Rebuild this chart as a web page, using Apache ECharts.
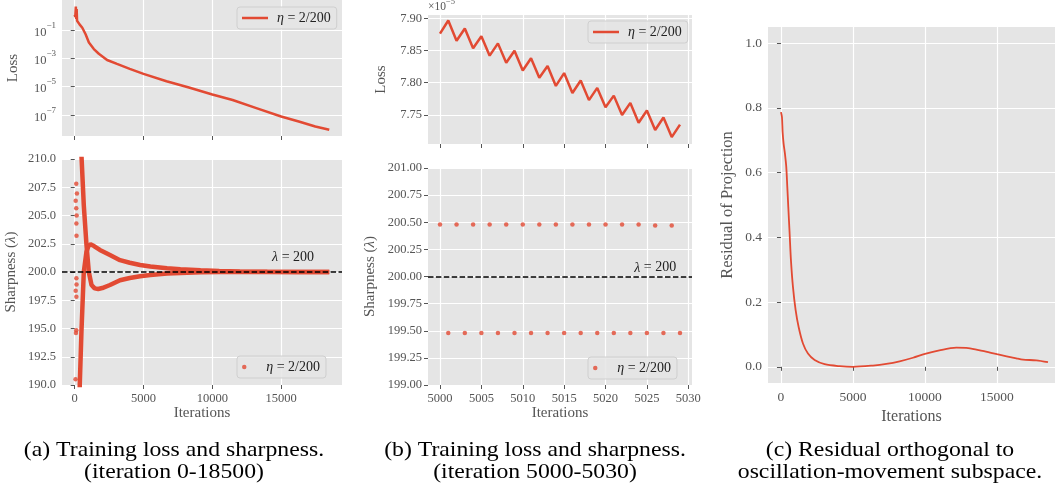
<!DOCTYPE html>
<html>
<head>
<meta charset="utf-8">
<script src="https://cdn.jsdelivr.net/npm/echarts@6/dist/echarts.min.js"></script>
<style>html,body{margin:0;padding:0;background:#fff}#c{width:1055px;height:490px}</style>
</head>
<body>
<div id="c"></div>
<script>
// ---------- data ----------
// (a) top: training loss, iterations 0-18500
const aLossIter = [0, 40, 80, 110, 140, 170, 240, 350, 550, 790, 1030, 1390, 1750, 2110, 2350, 3070, 4000, 5000, 6670, 8300, 10000, 11477, 13200, 15000, 16282, 17485, 18500];
const aLossVal  = [1.2, 0.85, 4.6, 0.6, 3.0, 0.45, 0.40, 0.25, 0.145, 0.05, 0.0129, 0.00447, 0.0021, 0.00115, 0.00076, 0.0004, 0.00018, 7.88e-5, 2.4e-5, 8.5e-6, 2.75e-6, 1.12e-6, 3.0e-7, 7.6e-8, 3.4e-8, 1.5e-8, 8.9e-9];
// (a) bottom: sharpness, early isolated points
const aDotIter = [110, 160, 70, 110, 140, 120, 130, 120, 130, 70, 120, 110, 90, 60];
const aDotVal  = [207.8, 206.95, 206.3, 205.65, 205.0, 204.3, 203.2, 199.45, 198.9, 198.35, 197.8, 194.85, 194.6, 190.5];
// (a) bottom: dense alternating branch rising from below
const aUpIter = [340, 366, 488, 659, 854, 1000, 1146, 1400, 1829, 2561, 3292, 4000, 4755, 5500, 6708, 7683, 9144, 10500, 12000, 14000, 16000, 18500];
const aUpVal  = [188.5, 190.0, 194.7, 200.0, 201.8, 202.3, 202.45, 202.3, 201.95, 201.5, 201.05, 200.82, 200.62, 200.48, 200.33, 200.25, 200.16, 200.09, 200.04, 200.02, 200.01, 200.0];
// (a) bottom: dense alternating branch falling from above
const aLoIter = [420, 488, 659, 854, 1024, 1220, 1450, 1707, 2000, 2561, 3292, 4000, 4755, 5500, 6708, 7683, 9144, 10500, 12000, 14000, 18500];
const aLoVal  = [212.1, 210.35, 205.9, 202.4, 200.0, 198.85, 198.55, 198.5, 198.58, 198.85, 199.27, 199.47, 199.63, 199.73, 199.86, 199.92, 199.97, 199.99, 200.0, 200.0, 200.0];
// (b): iterations 5000-5029
const bIter  = [5000, 5001, 5002, 5003, 5004, 5005, 5006, 5007, 5008, 5009, 5010, 5011, 5012, 5013, 5014, 5015, 5016, 5017, 5018, 5019, 5020, 5021, 5022, 5023, 5024, 5025, 5026, 5027, 5028, 5029];
// loss in units of 1e-5
const bLoss  = [7.876, 7.8965, 7.865, 7.884, 7.8535, 7.872, 7.842, 7.861, 7.831, 7.8495, 7.819, 7.838, 7.8076, 7.826, 7.795, 7.815, 7.784, 7.8035, 7.773, 7.792, 7.762, 7.780, 7.750, 7.7687, 7.738, 7.757, 7.7268, 7.746, 7.7157, 7.735];
const bSharp = [200.48, 199.48, 200.48, 199.48, 200.48, 199.48, 200.48, 199.48, 200.48, 199.48, 200.48, 199.48, 200.48, 199.48, 200.48, 199.48, 200.48, 199.48, 200.48, 199.48, 200.48, 199.48, 200.48, 199.48, 200.48, 199.48, 200.47, 199.48, 200.47, 199.48];
// (c): residual of projection
const cIter = [0, 69, 116, 185, 278, 370, 440, 509, 602, 694, 833, 1019, 1227, 1528, 1875, 2338, 3032, 4074, 5000, 6389, 7315, 8241, 9167, 10000, 11000, 12176, 13000, 14000, 15000, 16343, 16806, 17731, 18542];
const cRes  = [0.787, 0.772, 0.725, 0.689, 0.658, 0.617, 0.556, 0.494, 0.412, 0.329, 0.247, 0.175, 0.123, 0.072, 0.041, 0.021, 0.008, 0.002, 0.0, 0.004, 0.009, 0.017, 0.028, 0.040, 0.051, 0.059, 0.058, 0.049, 0.039, 0.026, 0.022, 0.020, 0.0144];
// ticks
const iterTicks   = [0, 5000, 10000, 15000];
const logTicks    = [1e-7, 1e-5, 1e-3, 1e-1];
const bIterTicks  = [5000, 5005, 5010, 5015, 5020, 5025, 5030];
const bLossTicks  = [7.75, 7.80, 7.85, 7.90];
const cTicks      = [0, 0.2, 0.4, 0.6, 0.8, 1.0];
const lambdaLine  = 200;
const legendText  = '{i|η} = 2/200';
const lambdaText  = '{i|λ} = 200';

// ---------- style ----------
const FONT = '"Liberation Serif", "DejaVu Serif", serif';
const RED = '#E24A33';
const GRAY = '#555555';
const zip = (a, b) => a.map((v, i) => [v, b[i]]);

const tickStyle = { show: true, length: 4, inside: false, lineStyle: { color: GRAY, width: 1 } };
const splitStyle = { show: true, lineStyle: { color: '#ffffff', width: 1.2 } };
function labelBase(fs) { return { color: GRAY, fontFamily: FONT, fontSize: fs || 12.5 }; }
function nameStyle(fs) {
  return { color: GRAY, fontFamily: FONT, fontSize: fs,
    rich: { i: { fontStyle: 'italic', fontFamily: FONT, fontSize: fs, color: GRAY } } };
}
const plain = v => String(v);

function xAxis(grid, min, max, ticks, showLabel, name, fs, nfs, gap) {
  return {
    type: 'value', gridIndex: grid, min: min, max: max,
    axisLine: { show: false },
    axisTick: Object.assign({}, tickStyle, { customValues: ticks }),
    splitLine: splitStyle,
    axisLabel: Object.assign({ show: showLabel, margin: 7, customValues: ticks, formatter: plain }, labelBase(fs)),
    name: name || '', nameLocation: 'middle', nameGap: gap || 21, nameTextStyle: nameStyle(nfs || 15)
  };
}
function yAxis(grid, extra, name, gap, nfs) {
  return Object.assign({
    type: 'value', gridIndex: grid,
    axisLine: { show: false },
    axisTick: tickStyle,
    splitLine: splitStyle,
    name: name, nameLocation: 'middle', nameGap: gap, nameRotate: 90, nameTextStyle: nameStyle(nfs || 15)
  }, extra);
}

const legendBase = {
  orient: 'vertical', itemWidth: 26, padding: [4, 6, 4, 5],
  backgroundColor: 'rgba(229,229,229,0.85)', borderColor: '#cfcfcf', borderWidth: 1, borderRadius: 3,
  formatter: () => legendText,
  textStyle: { color: '#222', fontFamily: FONT, fontSize: 14, padding: [0, 0, 0, 4],
    rich: { i: { fontStyle: 'italic', fontFamily: FONT, fontSize: 14, color: '#222' } } },
  selectedMode: false
};

const dashLine = {
  silent: true, symbol: ['none', 'none'], label: { show: false },
  lineStyle: { color: '#000', width: 1.6, type: [5.5, 2.4] },
  data: [{ yAxis: lambdaLine }]
};
function lambdaMark(x, y) {
  return {
    silent: true,
    data: [{ coord: [x, y], symbol: 'circle', symbolSize: 1, itemStyle: { color: 'rgba(0,0,0,0)' },
      label: { show: true, position: 'inside', formatter: lambdaText, color: '#222', fontFamily: FONT, fontSize: 14,
        rich: { i: { fontStyle: 'italic', fontFamily: FONT, fontSize: 14, color: '#222' } } } }]
  };
}

const chart = echarts.init(document.getElementById('c'), null, { renderer: 'canvas' });
const gridBase = { show: true, backgroundColor: '#E5E5E5', borderWidth: 0, containLabel: false };
const capStyle = { fill: '#000', fontFamily: FONT, fontSize: 21, lineHeight: 22, align: 'center', verticalAlign: 'top' };

const option = {
  animation: false,
  grid: [
    Object.assign({ left: 62, top: 0, width: 280, height: 136 }, gridBase),
    Object.assign({ left: 62, top: 159, width: 280, height: 226 }, gridBase),
    Object.assign({ left: 428, top: 15, width: 264, height: 129 }, gridBase),
    Object.assign({ left: 428, top: 168, width: 264, height: 217 }, gridBase),
    Object.assign({ left: 768, top: 27, width: 287, height: 356 }, gridBase)
  ],
  xAxis: [
    xAxis(0, -925, 19425, iterTicks, false),
    xAxis(1, -925, 19425, iterTicks, true, 'Iterations'),
    xAxis(2, 4998.55, 5030.45, bIterTicks, false),
    xAxis(3, 4998.55, 5030.45, bIterTicks, true, 'Iterations'),
    xAxis(4, -900, 19030, iterTicks, true, 'Iterations', 13.5, 16, 20)
  ],
  yAxis: [
    yAxis(0, {
      type: 'log', logBase: 10, min: 3.2e-9, max: 13.2,
      axisTick: Object.assign({}, tickStyle, { customValues: logTicks }),
      axisLabel: Object.assign({ margin: 6, customValues: logTicks,
        formatter: v => '{b|10}{s|−' + Math.abs(Math.round(Math.log10(v))) + '}',
        rich: { b: { color: GRAY, fontFamily: FONT, fontSize: 12.5, lineHeight: 18, verticalAlign: 'bottom' },
                s: { color: GRAY, fontFamily: FONT, fontSize: 9, lineHeight: 18, verticalAlign: 'top' } } }, labelBase())
    }, 'Loss', 41),
    yAxis(1, { min: 190, max: 210, interval: 2.5,
      axisLabel: Object.assign({ margin: 6, formatter: v => v.toFixed(1) }, labelBase()) }, 'Sharpness ({i|λ})', 43),
    yAxis(2, { min: 7.705, max: 7.905,
      axisTick: Object.assign({}, tickStyle, { customValues: bLossTicks }),
      axisLabel: Object.assign({ margin: 6, customValues: bLossTicks, formatter: v => v.toFixed(2) }, labelBase()) }, 'Loss', 39),
    yAxis(3, { min: 199, max: 201, interval: 0.25,
      axisLabel: Object.assign({ margin: 6, formatter: v => v.toFixed(2) }, labelBase()) }, 'Sharpness ({i|λ})', 50),
    yAxis(4, { min: -0.05, max: 1.05,
      axisTick: Object.assign({}, tickStyle, { customValues: cTicks }),
      axisLabel: Object.assign({ margin: 6, customValues: cTicks, formatter: v => v.toFixed(1) }, labelBase(13.5)) }, 'Residual of Projection', 32, 16.5)
  ],
  legend: [
    Object.assign({ left: 237, top: 7, data: ['aLoss'], icon: 'rect', itemHeight: 2.5 }, legendBase),
    Object.assign({ left: 237, top: 356, data: ['aSharp'], icon: 'circle', itemHeight: 4.5 }, legendBase),
    Object.assign({ left: 588, top: 21, data: ['bLoss'], icon: 'rect', itemHeight: 2.5 }, legendBase),
    Object.assign({ left: 588, top: 357, data: ['bSharp'], icon: 'circle', itemHeight: 4.5 }, legendBase)
  ],
  series: [
    { name: 'aLoss', type: 'line', xAxisIndex: 0, yAxisIndex: 0, data: zip(aLossIter, aLossVal),
      showSymbol: false, symbol: 'none', color: RED, lineStyle: { color: RED, width: 2.5 }, z: 3 },
    { name: 'aUpper', type: 'line', xAxisIndex: 1, yAxisIndex: 1, data: zip(aUpIter, aUpVal),
      symbol: 'none', color: RED, lineStyle: { color: RED, width: 4.5 }, z: 2 },
    { name: 'aLower', type: 'line', xAxisIndex: 1, yAxisIndex: 1, data: zip(aLoIter, aLoVal),
      symbol: 'none', color: RED, lineStyle: { color: RED, width: 4.5 }, z: 2 },
    { name: 'aSharp', type: 'scatter', xAxisIndex: 1, yAxisIndex: 1, data: zip(aDotIter, aDotVal),
      symbolSize: 4.5, itemStyle: { color: RED }, color: RED, z: 5,
      markLine: dashLine, markPoint: lambdaMark(15870, 201.33) },
    { name: 'bLoss', type: 'line', xAxisIndex: 2, yAxisIndex: 2, data: zip(bIter, bLoss),
      symbol: 'none', showSymbol: false, color: RED, lineStyle: { color: RED, width: 2.5 }, z: 3 },
    { name: 'bSharp', type: 'scatter', xAxisIndex: 3, yAxisIndex: 3, data: zip(bIter, bSharp),
      symbolSize: 4.5, itemStyle: { color: RED }, color: RED, z: 5,
      markLine: dashLine, markPoint: lambdaMark(5026, 200.08) },
    { name: 'cRes', type: 'line', xAxisIndex: 4, yAxisIndex: 4, data: zip(cIter, cRes),
      symbol: 'none', smooth: 0.3, color: RED, lineStyle: { color: RED, width: 1.8 }, z: 3 }
  ],
  graphic: [
    { type: 'text', left: 428, top: -3, silent: true,
      style: { text: '{b|×10}{s|−5}', rich: {
        b: { fill: GRAY, fontFamily: FONT, fontSize: 11.5, lineHeight: 16, verticalAlign: 'bottom' },
        s: { fill: GRAY, fontFamily: FONT, fontSize: 8.5, lineHeight: 16, verticalAlign: 'top' } } } },
    { type: 'text', x: 174, y: 439, scaleX: 1.13, silent: true,
      style: Object.assign({ text: '(a) Training loss and sharpness.\n(iteration 0-18500)' }, capStyle) },
    { type: 'text', x: 535, y: 439, scaleX: 1.13, silent: true,
      style: Object.assign({ text: '(b) Training loss and sharpness.\n(iteration 5000-5030)' }, capStyle) },
    { type: 'text', x: 890, y: 439, scaleX: 1.13, silent: true,
      style: Object.assign({ text: '(c) Residual orthogonal to\noscillation-movement subspace.' }, capStyle) }
  ]
};
chart.setOption(option);
</script>
</body>
</html>
